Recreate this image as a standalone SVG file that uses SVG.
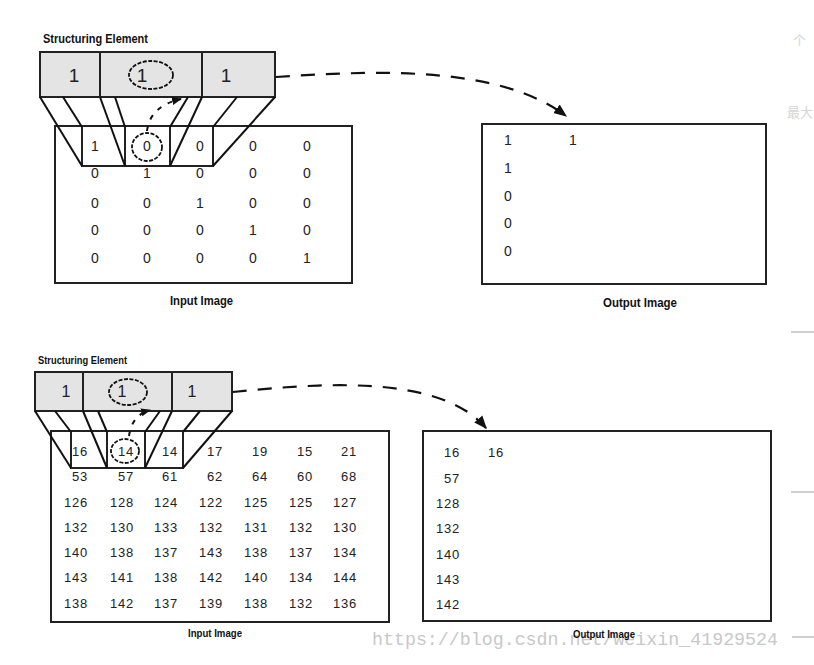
<svg xmlns="http://www.w3.org/2000/svg" width="814" height="665" viewBox="0 0 814 665">
<style>
.bg{fill:#fff}
.box{fill:#fff;stroke:#222;stroke-width:2}
.se{fill:#e4e4e4;stroke:#222;stroke-width:2}
.cell{fill:none;stroke:#222;stroke-width:2}
.proj{stroke:#111;stroke-width:2;fill:none}
.dash{stroke:#111;stroke-width:2.2;fill:none;stroke-dasharray:14 11}
.sdash{stroke:#111;stroke-width:2;fill:none;stroke-dasharray:5 7}
.circ{fill:none;stroke:#111;stroke-width:1.8;stroke-dasharray:4 1.5}
.lbl{font-family:"Liberation Sans",Arial,sans-serif;font-weight:bold;fill:#111}
.n{font-family:"Liberation Sans",Arial,sans-serif;fill:#222;text-anchor:middle}
.m{font-family:"Liberation Sans",Arial,sans-serif;fill:#222;text-anchor:end;font-size:13px;letter-spacing:0.8px}
.faint{fill:#d6d6d6;font-family:"Noto Sans CJK SC",sans-serif;font-size:13px}
.gl{stroke:#d0d0d0;stroke-width:2}
</style>
<defs>
<marker id="ah" viewBox="0 0 10 10" refX="9" refY="5" markerWidth="6" markerHeight="6" orient="auto" markerUnits="strokeWidth">
<path d="M0,1 L10,5 L0,9 Z" fill="#111"/>
</marker>
<marker id="ahs" viewBox="0 0 10 10" refX="9" refY="5" markerWidth="5" markerHeight="5" orient="auto" markerUnits="strokeWidth">
<path d="M0,1 L10,5 L0,9 Z" fill="#111"/>
</marker>
</defs>
<rect class="bg" x="0" y="0" width="814" height="665"/>

<!-- faint background fragments -->
<g id="background">
<text x="793" y="45" class="faint">个</text>
<text x="787" y="117" class="faint">最大</text>
<line class="gl" x1="791" y1="332" x2="814" y2="332"/>
<line class="gl" x1="791" y1="492" x2="814" y2="492"/>
<line class="gl" x1="792" y1="637" x2="814" y2="637"/>
<text x="372" y="645" font-family="Liberation Mono,monospace" font-size="18" fill="#c8c8c8" textLength="406" lengthAdjust="spacingAndGlyphs">https://blog.csdn.net/weixin_41929524</text>
</g>

<!-- ===== TOP DIAGRAM ===== -->
<g id="input-top">
<rect class="box" x="55" y="126" width="297" height="157"/>
<g class="n" font-size="14">
<text x="95" y="151">1</text><text x="147" y="151">0</text><text x="200" y="151">0</text><text x="253" y="151">0</text><text x="307" y="151">0</text>
<text x="95" y="178">0</text><text x="147" y="178">1</text><text x="200" y="178">0</text><text x="253" y="178">0</text><text x="307" y="178">0</text>
<text x="95" y="208">0</text><text x="147" y="208">0</text><text x="200" y="208">1</text><text x="253" y="208">0</text><text x="307" y="208">0</text>
<text x="95" y="235">0</text><text x="147" y="235">0</text><text x="200" y="235">0</text><text x="253" y="235">1</text><text x="307" y="235">0</text>
<text x="95" y="263">0</text><text x="147" y="263">0</text><text x="200" y="263">0</text><text x="253" y="263">0</text><text x="307" y="263">1</text>
</g>
<path class="cell" d="M82,127 V166 H213 V127 M125,127 V166 M170,127 V166"/>
<ellipse class="circ" cx="147" cy="147" rx="15" ry="14"/>
<text class="lbl" x="170" y="305" font-size="13" textLength="63" lengthAdjust="spacingAndGlyphs">Input Image</text>
</g>

<g id="se-top">
<text class="lbl" x="43" y="43" font-size="13" textLength="105" lengthAdjust="spacingAndGlyphs">Structuring Element</text>
<rect class="se" x="40" y="52" width="235" height="45"/>
<line class="cell" x1="100" y1="52" x2="100" y2="97"/>
<line class="cell" x1="202" y1="52" x2="202" y2="97"/>
<g class="n" font-size="19">
<text x="74" y="82">1</text><text x="142" y="82">1</text><text x="226" y="82">1</text>
</g>
<ellipse class="circ" cx="151" cy="75" rx="22" ry="14"/>
</g>

<g id="output-top">
<rect class="box" x="482" y="124" width="284" height="160"/>
<g class="n" font-size="14">
<text x="508" y="145">1</text><text x="573" y="145">1</text>
<text x="508" y="173">1</text>
<text x="508" y="201">0</text>
<text x="508" y="228">0</text>
<text x="508" y="256">0</text>
</g>
<text class="lbl" x="603" y="307" font-size="13" textLength="74" lengthAdjust="spacingAndGlyphs">Output Image</text>
</g>

<!-- ===== BOTTOM DIAGRAM ===== -->
<g id="input-bottom">
<rect class="box" x="51" y="431" width="338" height="191"/>
<g class="m">
<text x="88" y="456">16</text><text x="134" y="456">14</text><text x="178" y="456">14</text><text x="223" y="456">17</text><text x="268" y="456">19</text><text x="313" y="456">15</text><text x="357" y="456">21</text>
<text x="88" y="481">53</text><text x="134" y="481">57</text><text x="178" y="481">61</text><text x="223" y="481">62</text><text x="268" y="481">64</text><text x="313" y="481">60</text><text x="357" y="481">68</text>
<text x="88" y="507">126</text><text x="134" y="507">128</text><text x="178" y="507">124</text><text x="223" y="507">122</text><text x="268" y="507">125</text><text x="313" y="507">125</text><text x="357" y="507">127</text>
<text x="88" y="532">132</text><text x="134" y="532">130</text><text x="178" y="532">133</text><text x="223" y="532">132</text><text x="268" y="532">131</text><text x="313" y="532">132</text><text x="357" y="532">130</text>
<text x="88" y="557">140</text><text x="134" y="557">138</text><text x="178" y="557">137</text><text x="223" y="557">143</text><text x="268" y="557">138</text><text x="313" y="557">137</text><text x="357" y="557">134</text>
<text x="88" y="582">143</text><text x="134" y="582">141</text><text x="178" y="582">138</text><text x="223" y="582">142</text><text x="268" y="582">140</text><text x="313" y="582">134</text><text x="357" y="582">144</text>
<text x="88" y="608">138</text><text x="134" y="608">142</text><text x="178" y="608">137</text><text x="223" y="608">139</text><text x="268" y="608">138</text><text x="313" y="608">132</text><text x="357" y="608">136</text>
</g>
<path class="cell" d="M71,432 V468 H183 V432 M107,432 V468 M145,432 V468"/>
<ellipse class="circ" cx="125" cy="451" rx="14" ry="12"/>
<text class="lbl" x="188" y="637" font-size="11" textLength="54" lengthAdjust="spacingAndGlyphs">Input Image</text>
</g>

<g id="se-bottom">
<text class="lbl" x="38" y="364" font-size="11" textLength="89" lengthAdjust="spacingAndGlyphs">Structuring Element</text>
<rect class="se" x="35" y="372" width="197" height="39"/>
<line class="cell" x1="83" y1="372" x2="83" y2="411"/>
<line class="cell" x1="172" y1="372" x2="172" y2="411"/>
<g class="n" font-size="16">
<text x="66" y="397">1</text><text x="122" y="397">1</text><text x="192" y="397">1</text>
</g>
<ellipse class="circ" cx="128" cy="392" rx="19" ry="13"/>
</g>

<g id="output-bottom">
<rect class="box" x="423" y="431" width="348" height="190"/>
<g class="m">
<text x="460" y="457">16</text><text x="504" y="457">16</text>
<text x="460" y="483">57</text>
<text x="460" y="508">128</text>
<text x="460" y="533">132</text>
<text x="460" y="559">140</text>
<text x="460" y="584">143</text>
<text x="460" y="609">142</text>
</g>
<text class="lbl" x="573" y="638" font-size="11" textLength="62" lengthAdjust="spacingAndGlyphs">Output Image</text>
</g>

<!-- ===== CONNECTORS ===== -->
<g id="connectors">
<line class="proj" x1="40" y1="97" x2="82" y2="166"/>
<line class="proj" x1="63" y1="97" x2="82" y2="127"/>
<line class="proj" x1="100" y1="97" x2="125" y2="166"/>
<line class="proj" x1="115" y1="97" x2="125" y2="127"/>
<line class="proj" x1="202" y1="97" x2="170" y2="166"/>
<line class="proj" x1="188" y1="97" x2="170" y2="127"/>
<line class="proj" x1="237" y1="97" x2="213" y2="127"/>
<line class="proj" x1="275" y1="97" x2="213" y2="166"/>
<path class="sdash" d="M147,131 Q150,106 181,99" marker-end="url(#ahs)"/>
<path class="dash" d="M276,77 C380,70 500,66 566,116" marker-end="url(#ah)"/>
<line class="proj" x1="35" y1="411" x2="71" y2="468"/>
<line class="proj" x1="55" y1="411" x2="71" y2="432"/>
<line class="proj" x1="83" y1="411" x2="107" y2="468"/>
<line class="proj" x1="98" y1="411" x2="107" y2="432"/>
<line class="proj" x1="172" y1="411" x2="145" y2="468"/>
<line class="proj" x1="160" y1="411" x2="145" y2="432"/>
<line class="proj" x1="200" y1="411" x2="183" y2="432"/>
<line class="proj" x1="232" y1="411" x2="183" y2="468"/>
<path class="sdash" d="M129,436 Q132,415 150,410" marker-end="url(#ahs)"/>
<path class="dash" d="M233,392 C320,383 440,374 486,428" marker-end="url(#ah)"/>
</g>
</svg>
